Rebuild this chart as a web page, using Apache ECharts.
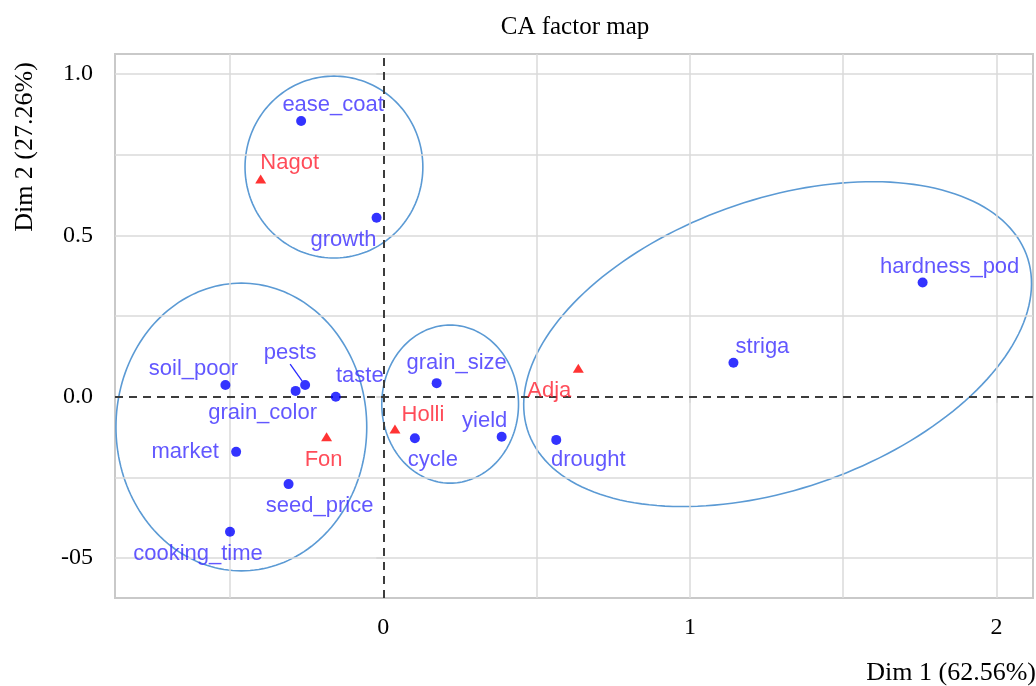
<!DOCTYPE html>
<html>
<head>
<meta charset="utf-8">
<script src="https://cdn.jsdelivr.net/npm/echarts@6/dist/echarts.min.js"></script>
<style>
  html, body { margin: 0; padding: 0; background: #ffffff; }
  #chart { width: 1036px; height: 686px; }
</style>
</head>
<body>
<div id="chart"></div>
<script>
// ---------------- data ----------------
const traitNames = ['ease_coat', 'growth', 'hardness_pod', 'striga', 'drought', 'yield', 'grain_size', 'cycle', 'taste', 'pests', 'grain_color', 'soil_poor', 'market', 'seed_price', 'cooking_time'];
const traitDim1 = [-0.268, -0.022, 1.759, 1.142, 0.564, 0.386, 0.174, 0.103, -0.155, -0.255, -0.286, -0.515, -0.480, -0.309, -0.500];
const traitDim2 = [0.855, 0.555, 0.354, 0.105, -0.134, -0.124, 0.042, -0.129, 0.000, 0.036, 0.018, 0.036, -0.171, -0.271, -0.419];

const varietyNames = ['Nagot', 'Fon', 'Holli', 'Adja'];
const varietyDim1 = [-0.400, -0.185, 0.038, 0.636];
const varietyDim2 = [0.675, -0.124, -0.100, 0.088];

// group ellipses (data units)
const groupCenterX = [-0.161, -0.463, 0.218, 1.286];
const groupCenterY = [0.712, -0.094, -0.023, 0.163];
const groupRadiusX = [0.290, 0.409, 0.223, 0.858];
const groupRadiusY = [0.282, 0.446, 0.245, 0.451];
const groupAngleDeg = [0, 0, 0, 17.9];

const xTickValues = [0, 1, 2];
const xTickLabels = ['0', '1', '2'];
const yTickValues = [-0.5, 0, 0.5, 1];
const yTickLabels = ['-05', '0.0', '0.5', '1.0'];
const xGridValues = [-0.5, 0.5, 1, 1.5, 2];
const yGridValues = [-0.5, -0.25, 0.25, 0.5, 0.75, 1];

const chartTitle = 'CA factor map';
const xAxisTitle = 'Dim 1 (62.56%)';
const yAxisTitle = 'Dim 2 (27.26%)';

// ---------------- layout (label displacement in px) ----------------
const labelShift = {
  ease_coat: [32, -16], growth: [-33, 22], hardness_pod: [27, -16], striga: [29, -16],
  drought: [32, 20], yield: [-17, -16], grain_size: [20, -20], cycle: [18, 22],
  taste: [24, -21], pests: [-15, -32], grain_color: [-33, 22], soil_poor: [-32, -16],
  market: [-51, 0], seed_price: [31, 22], cooking_time: [-32, 22],
  Nagot: [29, -16], Fon: [-3, 23], Holli: [28, -14], Adja: [-29, 23]
};

const serif = '"Liberation Serif", "Times New Roman", serif';
const sans = '"Liberation Sans", Arial, sans-serif';

const traitData = traitNames.map((n, i) => {
  const item = { name: n, value: [traitDim1[i], traitDim2[i]] };
  if (n === 'pests') {
    item.labelLine = { show: true, lineStyle: { color: '#2a2aff', width: 1.3 } };
  }
  return item;
});
const varietyData = varietyNames.map((n, i) => ({ name: n, value: [varietyDim1[i], varietyDim2[i]] }));
const ellipseData = groupCenterX.map((cx, i) => [cx, groupCenterY[i], groupRadiusX[i], groupRadiusY[i], groupAngleDeg[i]]);

const chart = echarts.init(document.getElementById('chart'), null, { renderer: 'canvas' });

function shiftLayout(names) {
  return function (params) {
    const s = labelShift[names[params.dataIndex]] || [0, 0];
    return { dx: s[0], dy: s[1] };
  };
}

const option = {
  animation: false,
  backgroundColor: '#ffffff',
  grid: {
    left: 115, top: 54, width: 918, height: 544,
    show: true, borderColor: '#c9c9c9', borderWidth: 2, backgroundColor: 'transparent'
  },
  xAxis: {
    type: 'value', min: -0.8751, max: 2.119,
    axisLine: { show: false },
    splitLine: { show: false },
    axisTick: { show: true, customValues: xTickValues, length: 6, lineStyle: { color: '#c9c9c9', width: 1.5 } },
    axisLabel: {
      customValues: xTickValues, margin: 18,
      formatter: v => xTickLabels[xTickValues.indexOf(v)],
      fontFamily: serif, fontSize: 24, color: '#000'
    }
  },
  yAxis: {
    type: 'value', min: -0.6242, max: 1.0626,
    axisLine: { show: false },
    splitLine: { show: false },
    axisTick: { show: true, customValues: yTickValues, length: 7, lineStyle: { color: '#c9c9c9', width: 1.5 } },
    axisLabel: {
      customValues: yTickValues, margin: 22,
      formatter: v => yTickLabels[yTickValues.indexOf(v)],
      fontFamily: serif, fontSize: 24, color: '#000'
    }
  },
  graphic: [
    { type: 'text', x: 575, y: 27, style: { text: chartTitle, font: '25px ' + serif, fill: '#000', textAlign: 'center', textVerticalAlign: 'middle' } },
    { type: 'text', x: 1036, y: 673, style: { text: xAxisTitle, font: '26px ' + serif, fill: '#000', textAlign: 'right', textVerticalAlign: 'middle' } },
    { type: 'text', x: 25, y: 147, rotation: Math.PI / 2, style: { text: yAxisTitle, font: '26px ' + serif, fill: '#000', textAlign: 'center', textVerticalAlign: 'middle' } }
  ],
  series: [
    {
      // grid lines
      type: 'scatter', data: [], silent: true, z: 1,
      markLine: {
        silent: true, symbol: 'none', animation: false, label: { show: false },
        lineStyle: { color: '#dadada', width: 1.5, type: 'solid' },
        data: xGridValues.map(v => ({ xAxis: v })).concat(yGridValues.map(v => ({ yAxis: v })))
      }
    },
    {
      // reference dashed lines at 0
      type: 'scatter', data: [], silent: true, z: 2,
      markLine: {
        silent: true, symbol: 'none', animation: false, label: { show: false },
        lineStyle: { color: '#3c3c3c', width: 2, type: [8, 6] },
        data: [{ xAxis: 0 }, { yAxis: 0 }]
      }
    },
    {
      type: 'custom', z: 3, silent: true,
      data: ellipseData,
      encode: { x: 0, y: 1 },
      renderItem: function (params, api) {
        const cx = api.value(0), cy = api.value(1), rx = api.value(2), ry = api.value(3);
        const th = api.value(4) * Math.PI / 180;
        const pts = [];
        const n = 180;
        for (let k = 0; k < n; k++) {
          const t = 2 * Math.PI * k / n;
          const dx = rx * Math.cos(t), dy = ry * Math.sin(t);
          pts.push(api.coord([cx + dx * Math.cos(th) - dy * Math.sin(th), cy + dx * Math.sin(th) + dy * Math.cos(th)]));
        }
        return { type: 'polygon', shape: { points: pts }, style: { fill: 'none', stroke: '#5b9ad4', lineWidth: 1.6 } };
      }
    },
    {
      type: 'scatter', name: 'traits', z: 5,
      data: traitData,
      symbol: 'circle', symbolSize: 10,
      itemStyle: { color: '#0000ff' },
      label: {
        show: true, position: 'inside', formatter: '{b}',
        fontFamily: sans, fontSize: 22, color: '#3b2dff', align: 'center', verticalAlign: 'middle'
      },
      labelLayout: shiftLayout(traitNames),
      labelLine: { show: false },
      emphasis: { disabled: true }
    },
    {
      type: 'scatter', name: 'varieties', z: 5,
      data: varietyData,
      symbol: 'triangle', symbolSize: [11, 9],
      itemStyle: { color: '#ff0000' },
      label: {
        show: true, position: 'inside', formatter: '{b}',
        fontFamily: sans, fontSize: 22, color: '#ff1f2f', align: 'center', verticalAlign: 'middle'
      },
      labelLayout: shiftLayout(varietyNames),
      emphasis: { disabled: true }
    }
  ]
};
chart.setOption(option);
</script>
</body>
</html>
